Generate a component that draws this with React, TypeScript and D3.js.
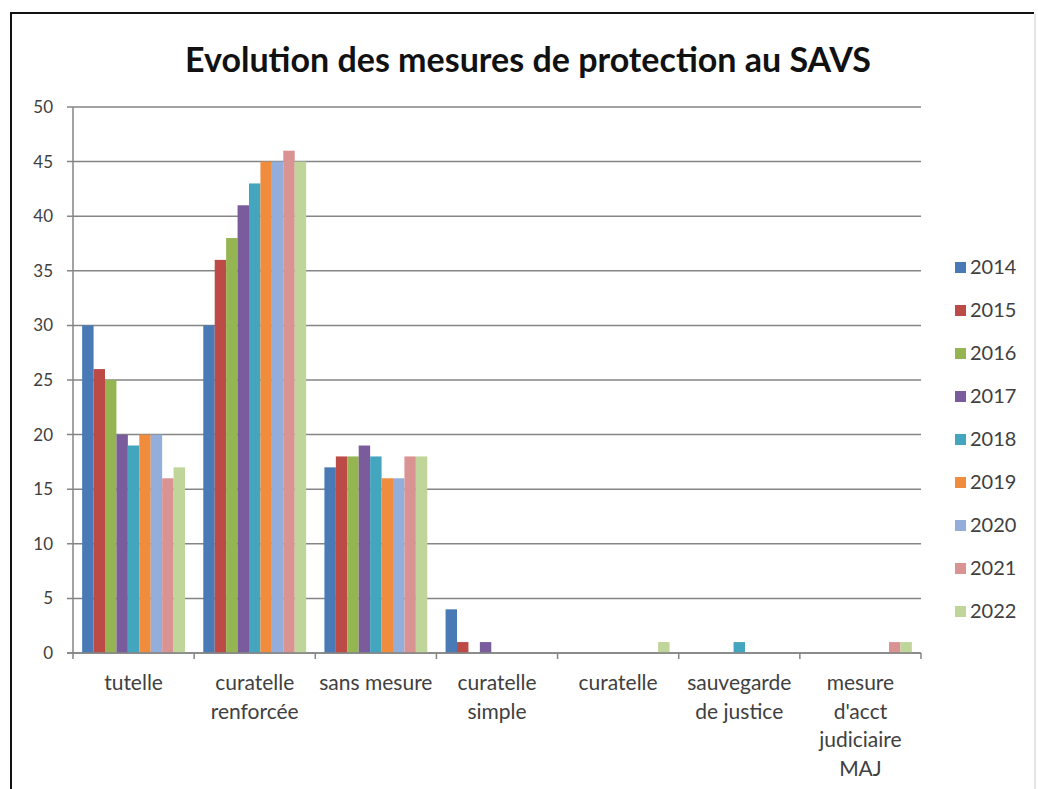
import React from 'react';
import * as d3 from 'd3';

const title = 'Evolution des mesures de protection au SAVS';

const categories = [
  'tutelle',
  'curatelle renforcée',
  'sans mesure',
  'curatelle simple',
  'curatelle',
  'sauvegarde de justice',
  "mesure d'acct judiciaire MAJ",
];
// how Excel wrapped each category label
const categoryLines = [
  ['tutelle'],
  ['curatelle', 'renforcée'],
  ['sans mesure'],
  ['curatelle', 'simple'],
  ['curatelle'],
  ['sauvegarde', 'de justice'],
  ['mesure', "d'acct", 'judiciaire', 'MAJ'],
];

const years = ['2014', '2015', '2016', '2017', '2018', '2019', '2020', '2021', '2022'];

const v2014 = [30, 30, 17, 4, 0, 0, 0];
const v2015 = [26, 36, 18, 1, 0, 0, 0];
const v2016 = [25, 38, 18, 0, 0, 0, 0];
const v2017 = [20, 41, 19, 1, 0, 0, 0];
const v2018 = [19, 43, 18, 0, 0, 1, 0];
const v2019 = [20, 45, 16, 0, 0, 0, 0];
const v2020 = [20, 45, 16, 0, 0, 0, 0];
const v2021 = [16, 46, 18, 0, 0, 0, 1];
const v2022 = [17, 45, 18, 0, 1, 0, 1];
const series = [v2014, v2015, v2016, v2017, v2018, v2019, v2020, v2021, v2022];

const yTicks = [0, 5, 10, 15, 20, 25, 30, 35, 40, 45, 50];

const colors = [
  '#4a7ab5', '#bc4a47', '#95b552', '#7a5c9c', '#44a5bf',
  '#f08c3e', '#93aedb', '#d99392', '#bfd59a',
];

const W = 1038;
const H = 789;
const FONT = 'Lato, "Open Sans", sans-serif';

const App: React.FC = () => {
  const x0 = d3.scaleBand<string>().domain(categories).range([73, 921]);
  const x1 = d3
    .scaleBand<string>()
    .domain(years)
    .range([0, x0.bandwidth()])
    .paddingOuter(0.8);
  const y = d3.scaleLinear().domain([0, 50]).range([653, 107]);
  const color = d3.scaleOrdinal<string, string>().domain(years).range(colors);

  const left = x0.range()[0];
  const right = x0.range()[1];
  const bounds = categories.map((c) => x0(c)!).concat([right]);

  return (
    <svg
      width={W}
      height={H}
      style={{ position: 'absolute', left: 0, top: 0, background: '#fff' }}
      fontFamily={FONT}
    >
      {/* frame */}
      <line x1={10} y1={13} x2={1034} y2={13} stroke='#111' strokeWidth={2} />
      <line x1={11} y1={13} x2={11} y2={H} stroke='#111' strokeWidth={2} />
      <line x1={1035} y1={14} x2={1035} y2={H} stroke='#ddd' strokeWidth={1.5} />

      <text
        x={528}
        y={72}
        textAnchor='middle'
        fontSize={34}
        fontWeight='bold'
        fill='#111'
      >
        {title}
      </text>

      {/* gridlines + y ticks */}
      {yTicks.map((t) => (
        <g key={t}>
          <line
            x1={left - 6}
            x2={right}
            y1={y(t)}
            y2={y(t)}
            stroke='#858585'
            strokeWidth={1.5}
          />
          <text
            x={53}
            y={y(t)}
            dy='0.35em'
            textAnchor='end'
            fontSize={17}
            fill='#404040'
          >
            {t}
          </text>
        </g>
      ))}

      {/* bars */}
      {categories.map((c, ci) => (
        <g key={c} transform={`translate(${x0(c)},0)`}>
          {years.map((yr, si) => {
            const v = series[si][ci];
            if (!v) return null;
            return (
              <rect
                key={yr}
                x={x1(yr)}
                y={y(v)}
                width={x1.bandwidth()}
                height={y(0) - y(v)}
                fill={color(yr)}
              />
            );
          })}
        </g>
      ))}

      {/* axes */}
      <line x1={left} x2={left} y1={y(50)} y2={y(0)} stroke='#858585' strokeWidth={1.5} />
      <line x1={left - 6} x2={right} y1={y(0)} y2={y(0)} stroke='#858585' strokeWidth={1.5} />
      {bounds.map((b, i) => (
        <line key={i} x1={b} x2={b} y1={y(0)} y2={y(0) + 6} stroke='#858585' strokeWidth={1.5} />
      ))}

      {/* category labels */}
      {categories.map((c, ci) => (
        <text
          key={c}
          x={x0(c)! + x0.bandwidth() / 2}
          y={690}
          textAnchor='middle'
          fontSize={21}
          fill='#404040'
        >
          {categoryLines[ci].map((l, li) => (
            <tspan key={li} x={x0(c)! + x0.bandwidth() / 2} dy={li === 0 ? 0 : 28.5}>
              {l}
            </tspan>
          ))}
        </text>
      ))}

      {/* legend */}
      {years.map((yr, i) => (
        <g key={yr} transform={`translate(955,${267 + i * 43})`}>
          <rect x={0} y={-5} width={11} height={11} fill={color(yr)} />
          <text x={15} y={0} dy='0.35em' fontSize={20} fill='#404040'>
            {yr}
          </text>
        </g>
      ))}
    </svg>
  );
};

export default App;
